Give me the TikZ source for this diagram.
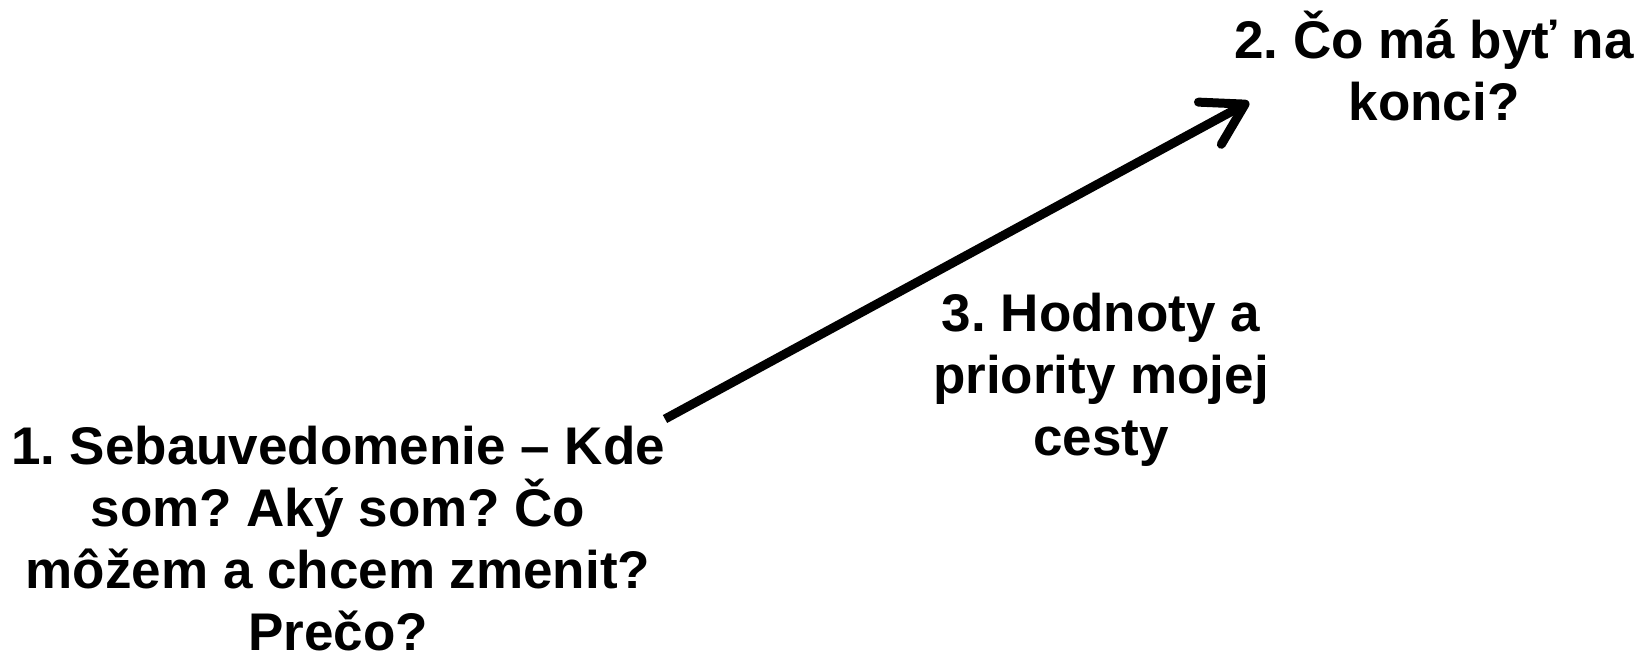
\documentclass[tikz,border=0pt]{standalone}
\usepackage{fontspec}
\setmainfont{Liberation Sans}
\usetikzlibrary{arrows.meta}
\frenchspacing
\tikzset{
  lbl/.style={font=\fontsize{53}{62}\selectfont\bfseries\frenchspacing, align=center, inner sep=0pt},
  bigarrow/.style={line width=9pt, -{Straight Barb[length=40pt,width=48pt,round]}}
}
\begin{document}
\begin{tikzpicture}[x=1pt,y=-1pt]
\useasboundingbox (0,0) rectangle (1649,660);
\node[lbl] (t1) at (338,539) {1. Sebauvedomenie – Kde\\som? Aký som? Čo\\môžem a chcem zmenit?\\Prečo?};
\node[lbl] (t2) at (1434,66) {2. Čo má byť na\\konci?};
\node[lbl] (t3) at (1101,380) {3. Hodnoty a\\priority mojej\\cesty};
\coordinate (a) at (665,419);
\coordinate (b) at (1249,102);
\draw[bigarrow] (a) -- (b);
\end{tikzpicture}
\end{document}
